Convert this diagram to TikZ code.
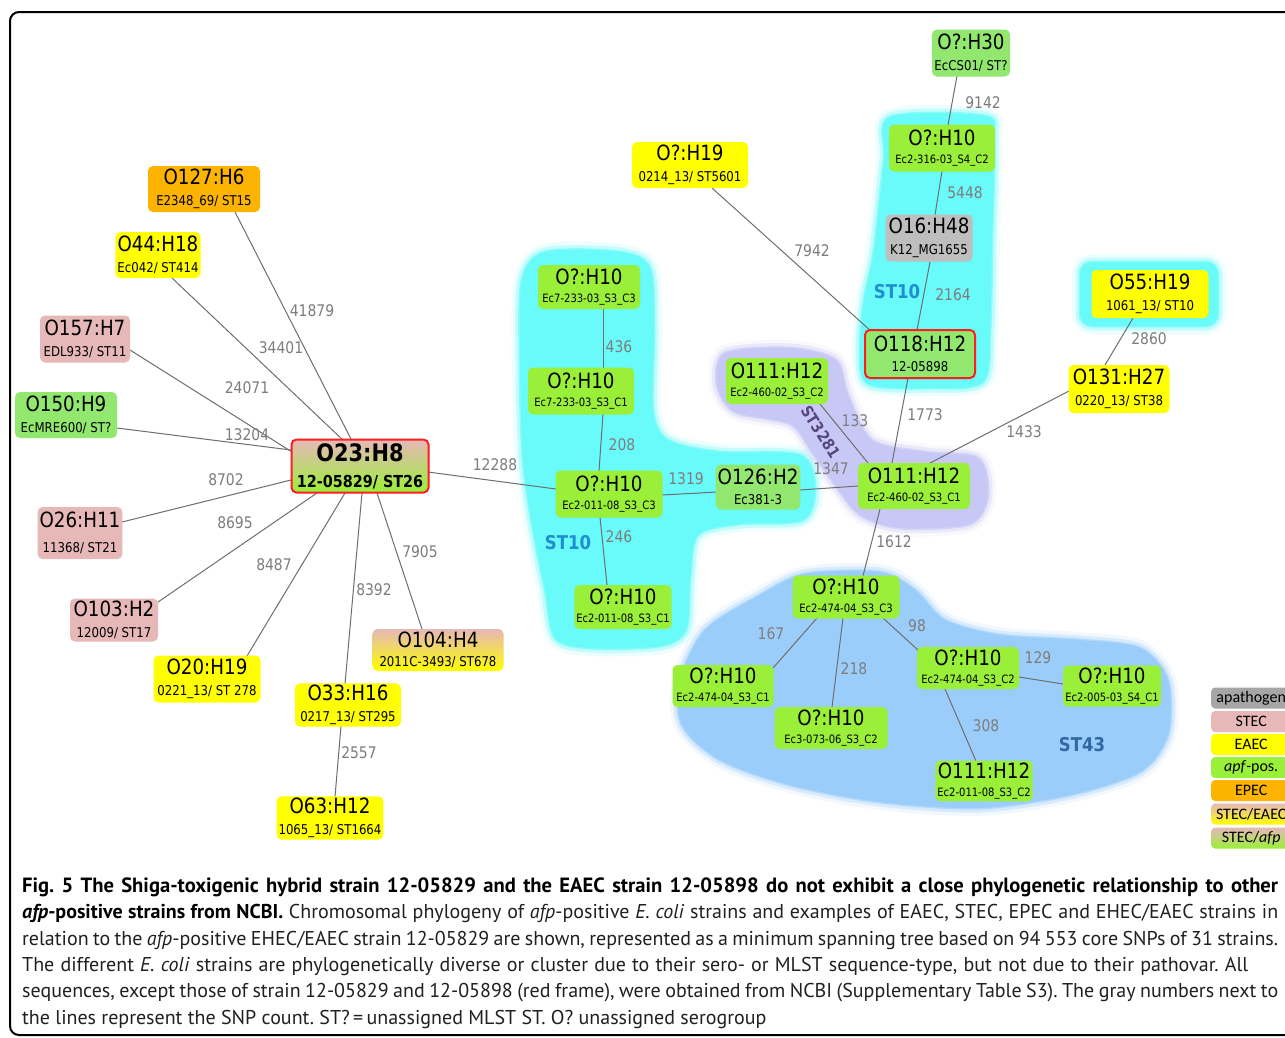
\documentclass[tikz,border=0pt]{standalone}
\usepackage{fontspec}
\setmainfont{PT Sans}
\newfontfamily\nf{DejaVu Sans}[FakeStretch=0.87]
\newfontfamily\lf{Carlito}
\pgfdeclarelayer{paper}
\pgfdeclarelayer{clusters}
\pgfdeclarelayer{edges}
\pgfsetlayers{paper,clusters,edges,main}
\definecolor{stec}{RGB}{230,184,183}
\definecolor{eaec}{RGB}{255,255,0}
\definecolor{apf}{RGB}{154,240,56}
\definecolor{apfsoft}{RGB}{146,232,110}
\definecolor{epec}{RGB}{253,180,0}
\definecolor{apath}{RGB}{190,190,190}
\definecolor{apathleg}{RGB}{166,166,166}
\definecolor{cyanc}{RGB}{105,250,250}
\definecolor{purc}{RGB}{200,200,246}
\definecolor{bluec}{RGB}{155,205,250}
\definecolor{edgec}{RGB}{110,110,110}
\definecolor{labc}{RGB}{125,125,125}
\definecolor{stten}{RGB}{30,143,207}
\definecolor{stfour}{RGB}{50,105,165}
\definecolor{stpur}{RGB}{88,70,128}
\definecolor{redframe}{RGB}{255,30,30}
\definecolor{captxt}{RGB}{35,31,32}
\newcommand\subL[1]{{\fontsize{13.5}{20.5}\selectfont #1}}
\newcommand\subS[1]{{\fontsize{11.5}{18.5}\selectfont #1}}
\newcommand\jline[2]{\makebox[#1][s]{#2}}
\tikzset{
  strain/.style={rounded corners=5pt, inner xsep=2pt, inner ysep=2pt, align=center,
    font=\nf\fontsize{21}{20.5}\selectfont},
  strainS/.style={strain, font=\nf\fontsize{21}{18.5}\selectfont},
  edge/.style={draw=edgec, line width=1pt},
  lab/.style={text=labc, inner sep=0pt, font=\nf\fontsize{16}{16}\selectfont},
  glow/.style={preaction={draw=#1, line width=16pt, opacity=0.12, line join=round},
               preaction={draw=#1, line width=9pt, opacity=0.3, line join=round},
               preaction={draw=#1, line width=3pt, opacity=0.6, line join=round}},
  stlab/.style={inner sep=0pt, font=\nf\bfseries\fontsize{19}{19}\selectfont},
  leg/.style={rounded corners=4pt, minimum width=80pt, minimum height=21pt, inner sep=0pt,
    anchor=west, font=\lf\fontsize{16}{16}\selectfont},
  capline/.style={anchor=base west, inner sep=0pt, text=captxt, font=\fontsize{20}{20}\selectfont\frenchspacing}
}
\begin{document}
\begin{tikzpicture}[x=1pt, y=-1pt]
\useasboundingbox (0,0) rectangle (1285,1037);
\clip (0,0) rectangle (1285,1037);
\begin{pgfonlayer}{paper}
\fill[white] (0,0) rectangle (1285,1037);
\end{pgfonlayer}
\draw[line width=2pt, rounded corners=9pt] (10,12) rectangle (1320,1035);

% ---------------- clusters ----------------
\begin{pgfonlayer}{clusters}
\fill[cyanc, glow=cyanc] plot[smooth cycle] coordinates {(545,252) (620,252) (650,268) (654,330) (653,410) (668,440) (720,452) (800,455) (815,487) (803,520) (740,524) (698,535) (690,580) (686,630) (660,646) (590,648) (555,638) (545,590) (533,530) (523,460) (520,360) (522,280)};
\fill[cyanc, glow=cyanc] plot[smooth cycle] coordinates {(890,117) (985,116) (994,140) (992,240) (990,330) (983,382) (930,388) (868,384) (860,350) (864,300) (874,250) (884,160)};
\fill[cyanc, glow=cyanc, rounded corners=12pt] (1080,262) rectangle (1218,326);
\fill[purc, glow=purc] plot[smooth cycle] coordinates {(725,353) (790,348) (836,360) (848,395) (872,440) (925,452) (978,458) (988,495) (970,524) (900,528) (860,515) (835,485) (812,452) (790,424) (735,412) (717,385)};
\fill[bluec, glow=bluec] plot[smooth cycle] coordinates {(680,680) (705,630) (760,595) (805,574) (880,572) (915,590) (945,620) (1000,635) (1080,640) (1140,648) (1168,680) (1168,735) (1140,772) (1070,795) (980,808) (880,802) (790,785) (720,760) (682,725)};
\end{pgfonlayer}

% ---------------- strain nodes ----------------
\node[strain, fill=apfsoft, minimum width=78pt, minimum height=47pt] (n30) at (971,53) {O?:H30\\\subL{EcCS01/ ST?}};
\node[strainS, fill=apf, minimum width=106pt, minimum height=47pt] (n316) at (942,148) {O?:H10\\\subS{Ec2-316-03\_S4\_C2}};
\node[strain, fill=apath, minimum width=87pt, minimum height=47pt] (n16) at (929,238) {O16:H48\\\subL{K12\_MG1655}};
\node[strain, fill=apfsoft, draw=redframe, line width=2pt, minimum width=110pt, minimum height=48pt] (n118) at (920,354) {O118:H12\\\subL{12-05898}};
\node[strain, fill=eaec, minimum width=116pt, minimum height=46pt] (n19) at (690,165) {O?:H19\\\subL{0214\_13/ ST5601}};
\node[strain, fill=eaec, minimum width=117pt, minimum height=48pt] (n55) at (1150,294) {O55:H19\\\subL{1061\_13/ ST10}};
\node[strain, fill=eaec, minimum width=101pt, minimum height=48pt] (n131) at (1119,389) {O131:H27\\\subL{0220\_13/ ST38}};
\node[strain, fill=epec, minimum width=112pt, minimum height=46pt] (n127) at (204,189) {O127:H6\\\subL{E2348\_69/ ST15}};
\node[strain, fill=eaec, minimum width=84pt, minimum height=46pt] (n44) at (158,255) {O44:H18\\\subL{Ec042/ ST414}};
\node[strain, fill=stec, minimum width=90pt, minimum height=47pt] (n157) at (85,339) {O157:H7\\\subL{EDL933/ ST11}};
\node[strain, fill=apfsoft, minimum width=102pt, minimum height=46pt] (n150) at (66,415) {O150:H9\\\subL{EcMRE600/ ST?}};
\node[strain, top color=stec, bottom color=apf, draw=redframe, line width=2pt, minimum width=137pt, minimum height=53pt,
      font=\nf\bfseries\fontsize{24}{26}\selectfont] (n23) at (360,466) {O23:H8\\{\fontsize{16.5}{26}\selectfont 12-05829/ ST26}};
\node[strain, fill=stec, minimum width=84pt, minimum height=52pt, font=\nf\fontsize{21}{25}\selectfont] (n26) at (80,533) {O26:H11\\\subL{11368/ ST21}};
\node[strain, fill=stec, minimum width=88pt, minimum height=43pt] (n103) at (114,620) {O103:H2\\\subL{12009/ ST17}};
\node[strain, fill=eaec, minimum width=107pt, minimum height=47pt] (n20) at (207,679) {O20:H19\\\subL{0221\_13/ ST 278}};
\node[strain, fill=eaec, minimum width=106pt, minimum height=43pt] (n33) at (348,705) {O33:H16\\\subL{0217\_13/ ST295}};
\node[strain, fill=eaec, minimum width=106pt, minimum height=43pt] (n63) at (330,818) {O63:H12\\\subL{1065\_13/ ST1664}};
\node[strain, top color=stec, bottom color=eaec, minimum width=131pt, minimum height=42pt, font=\nf\fontsize{21}{19}\selectfont] (n104) at (438,650) {O104:H4\\\subL{2011C-3493/ ST678}};
\node[strainS, fill=apf, minimum width=102pt, minimum height=44pt] (e7c3) at (589,287) {O?:H10\\\subS{Ec7-233-03\_S3\_C3}};
\node[strainS, fill=apf, minimum width=106pt, minimum height=47pt] (e7c1) at (581,391) {O?:H10\\\subS{Ec7-233-03\_S3\_C1}};
\node[strainS, fill=apf, minimum width=107pt, minimum height=47pt] (e11c3) at (609,494) {O?:H10\\\subS{Ec2-011-08\_S3\_C3}};
\node[strainS, fill=apf, minimum width=97pt, minimum height=44pt] (e11c1) at (623,607) {O?:H10\\\subS{Ec2-011-08\_S3\_C1}};
\node[strain, fill=apfsoft, minimum width=83pt, minimum height=45pt] (n126) at (758,487) {O126:H2\\\subL{Ec381-3}};
\node[strainS, fill=apf, minimum width=102pt, minimum height=46pt] (o111c2) at (777,381) {O111:H12\\\subS{Ec2-460-02\_S3\_C2}};
\node[strainS, fill=apf, minimum width=112pt, minimum height=46pt] (o111c1) at (914,486) {O111:H12\\\subS{Ec2-460-02\_S3\_C1}};
\node[strainS, fill=apf, minimum width=107pt, minimum height=43pt] (e474c3) at (846,597) {O?:H10\\\subS{Ec2-474-04\_S3\_C3}};
\node[strainS, fill=apf, minimum width=101pt, minimum height=42pt] (e474c1) at (723,686) {O?:H10\\\subS{Ec2-474-04\_S3\_C1}};
\node[strainS, fill=apf, minimum width=113pt, minimum height=42pt] (e073) at (831,728) {O?:H10\\\subS{Ec3-073-06\_S3\_C2}};
\node[strainS, fill=apf, minimum width=102pt, minimum height=42pt] (e474c2) at (968,668) {O?:H10\\\subS{Ec2-474-04\_S3\_C2}};
\node[strainS, fill=apf, minimum width=98pt, minimum height=41pt] (e005) at (1112,686) {O?:H10\\\subS{Ec2-005-03\_S4\_C1}};
\node[strainS, fill=apf, minimum width=97pt, minimum height=40pt] (o111e11) at (984,781) {O111:H12\\\subS{Ec2-011-08\_S3\_C2}};

% ---------------- connectors ----------------
\begin{pgfonlayer}{edges}
\draw[edge] ([shift={(31,23)}]n127.center) -- ([shift={(-8,-25)}]n23.center);
\draw[edge] ([shift={(14,23)}]n44.center) -- ([shift={(-15,-24)}]n23.center);
\draw[edge] ([shift={(45,11)}]n157.center) -- ([shift={(-68,-14)}]n23.center);
\draw[edge] ([shift={(51,13)}]n150.center) -- ([shift={(-69,-16)}]n23.center);
\draw[edge] ([shift={(42,-11)}]n26.center) -- ([shift={(-69,14)}]n23.center);
\draw[edge] ([shift={(44,-18)}]n103.center) -- ([shift={(-43,27)}]n23.center);
\draw[edge] ([shift={(40,-23)}]n20.center) -- ([shift={(-15,27)}]n23.center);
\draw[edge] ([shift={(-3,-21)}]n33.center) -- ([shift={(2,27)}]n23.center);
\draw[edge] ([shift={(-16,-21)}]n104.center) -- ([shift={(17,27)}]n23.center);
\draw[edge] ([shift={(-7,21)}]n33.center) -- ([shift={(5,-21)}]n63.center);
\draw[edge] ([shift={(68,6)}]n23.center) -- ([shift={(-53,-5)}]e11c3.center);
\draw[edge] ([shift={(14,22)}]e7c3.center) -- ([shift={(22,-23)}]e7c1.center);
\draw[edge] ([shift={(22,23)}]e7c1.center) -- ([shift={(-10,-23)}]e11c3.center);
\draw[edge] ([shift={(-9,23)}]e11c3.center) -- ([shift={(-16,-22)}]e11c1.center);
\draw[edge] ([shift={(53,1)}]e11c3.center) -- ([shift={(-41,5)}]n126.center);
\draw[edge] ([shift={(42,3)}]n126.center) -- ([shift={(-56,0)}]o111c1.center);
\draw[edge] ([shift={(43,23)}]o111c2.center) -- ([shift={(-46,-23)}]o111c1.center);
\draw[edge] ([shift={(-12,24)}]n118.center) -- ([shift={(-22,-23)}]o111c1.center);
\draw[edge] ([shift={(-50,2)}]n131.center) -- ([shift={(16,-23)}]o111c1.center);
\draw[edge] ([shift={(-17,24)}]n55.center) -- ([shift={(-14,-24)}]n131.center);
\draw[edge] ([shift={(22,23)}]n19.center) -- ([shift={(-48,-22)}]n118.center);
\draw[edge] ([shift={(1,24)}]n16.center) -- ([shift={(-3,-24)}]n118.center);
\draw[edge] ([shift={(0,23)}]n316.center) -- ([shift={(6,-23)}]n16.center);
\draw[edge] ([shift={(-14,23)}]n30.center) -- ([shift={(6,-23)}]n316.center);
\draw[edge] ([shift={(-34,23)}]o111c1.center) -- ([shift={(17,-21)}]e474c3.center);
\draw[edge] ([shift={(-29,21)}]e474c3.center) -- ([shift={(50,-18)}]e474c1.center);
\draw[edge] ([shift={(-3,21)}]e474c3.center) -- ([shift={(1,-21)}]e073.center);
\draw[edge] ([shift={(37,21)}]e474c3.center) -- ([shift={(-50,-18)}]e474c2.center);
\draw[edge] ([shift={(51,9)}]e474c2.center) -- ([shift={(-49,-2)}]e005.center);
\draw[edge] ([shift={(-23,21)}]e474c2.center) -- ([shift={(-8,-20)}]o111e11.center);
\end{pgfonlayer}

% ---------------- SNP labels ----------------
\node[lab] (l1) at (312,311) {41879};
\node[lab] (l2) at (281,348) {34401};
\node[lab] (l3) at (247,388) {24071};
\node[lab] (l4) at (247,435) {13204};
\node[lab] (l5) at (226,480) {8702};
\node[lab] (l6) at (235,523) {8695};
\node[lab] (l7) at (274,565) {8487};
\node[lab] (l8) at (374,590) {8392};
\node[lab] (l9) at (420,552) {7905};
\node[lab] (l10) at (359,753) {2557};
\node[lab] (l11) at (495,465) {12288};
\node[lab] (l12) at (619,347) {436};
\node[lab] (l13) at (622,445) {208};
\node[lab] (l14) at (619,537) {246};
\node[lab] (l15) at (686,479) {1319};
\node[lab] (l16) at (831,469) {1347};
\node[lab] (l17) at (855,421) {133};
\node[lab] (l18) at (925,415) {1773};
\node[lab] (l19) at (1024,432) {1433};
\node[lab] (l20) at (1149,339) {2860};
\node[lab] (l21) at (812,251) {7942};
\node[lab] (l22) at (953,295) {2164};
\node[lab] (l23) at (965,193) {5448};
\node[lab] (l24) at (983,103) {9142};
\node[lab] (l25) at (894,542) {1612};
\node[lab] (l26) at (771,634) {167};
\node[lab] (l27) at (854,669) {218};
\node[lab] (l28) at (917,626) {98};
\node[lab] (l29) at (1038,658) {129};
\node[lab] (l30) at (986,726) {308};

% ---------------- cluster labels ----------------
\node[stlab, text=stten] (st10a) at (568,543) {ST10};
\node[stlab, text=stten] (st10b) at (897,292) {ST10};
\node[stlab, text=stfour] (st43) at (1082,745) {ST43};
\node[stlab, text=stpur, rotate=-58, font=\nf\bfseries\fontsize{16}{16}\selectfont] (st3281) at (821,432) {ST3281};

% ---------------- legend ----------------
\node[leg, fill=apathleg] (k1) at (1211,698) {apathogen};
\node[leg, fill=stec] (k2) at (1211,721.5) {STEC};
\node[leg, fill=eaec] (k3) at (1211,744.5) {EAEC};
\node[leg, fill=apf] (k4) at (1211,767.5) {\textit{apf}-pos.};
\node[leg, fill=epec] (k5) at (1211,790.5) {EPEC};
\node[leg, top color=stec, bottom color=eaec] (k6) at (1211,814) {STEC/EAEC};
\node[leg, top color=stec, bottom color=apf] (k7) at (1211,838) {STEC/\textit{afp}};

% ---------------- caption ----------------
\node[capline, text=black, font=\fontsize{20.6}{20}\selectfont\frenchspacing] (c1) at (22,892.5) {\jline{1256pt}{\bfseries Fig. 5 The Shiga-toxigenic hybrid strain 12-05829 and the EAEC strain 12-05898 do not exhibit a close phylogenetic relationship to other}};
\node[capline] (c2) at (22,918.8) {\jline{1256pt}{{\color{black}\bfseries\itshape afp}{\color{black}\bfseries -positive strains from NCBI.} Chromosomal phylogeny of \textit{afp}-positive \textit{E. coli} strains and examples of EAEC, STEC, EPEC and EHEC/EAEC strains in}};
\node[capline] (c3) at (22,945.1) {\jline{1256pt}{relation to the \textit{afp}-positive EHEC/EAEC strain 12-05829 are shown, represented as a minimum spanning tree based on 94 553 core SNPs of 31 strains.}};
\node[capline] (c4) at (22,971.4) {\jline{1226pt}{The different \textit{E. coli} strains are phylogenetically diverse or cluster due to their sero- or MLST sequence-type, but not due to their pathovar. All}};
\node[capline] (c5) at (22,997.7) {\jline{1256pt}{sequences, except those of strain 12-05829 and 12-05898 (red frame), were obtained from NCBI (Supplementary Table S3). The gray numbers next to}};
\node[capline] (c6) at (22,1024) {the lines represent the SNP count. ST?\,=\,unassigned MLST ST. O? unassigned serogroup};
\end{tikzpicture}
\end{document}
